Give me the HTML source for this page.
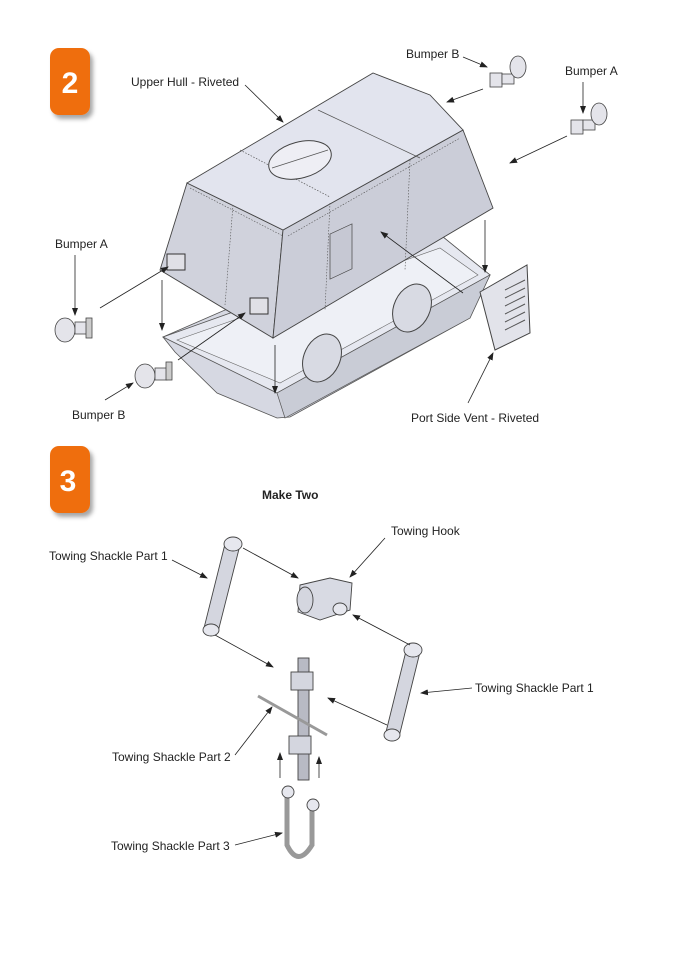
<!DOCTYPE html>
<html><head><meta charset="utf-8"><style>
html,body{margin:0;padding:0;background:#fff;}
svg{display:block;}
text{font-family:"Liberation Sans",sans-serif;font-size:12px;fill:#222;}
</style></head><body>
<svg width="676" height="954" viewBox="0 0 676 954" xmlns="http://www.w3.org/2000/svg">
<defs>
<marker id="a" markerWidth="8" markerHeight="6" refX="7" refY="3" orient="auto" markerUnits="userSpaceOnUse"><path d="M0,0 L8,3 L0,6 Z" fill="#222"/></marker>
<filter id="sh" x="-30%" y="-30%" width="170%" height="170%"><feDropShadow dx="3" dy="4" stdDeviation="2" flood-color="#000" flood-opacity="0.35"/></filter>
</defs>

<!-- badges -->
<rect x="50" y="48" width="40" height="67" rx="9" fill="#ef6e0a" filter="url(#sh)"/>
<text x="70" y="93" text-anchor="middle" style="font-size:30px;font-weight:bold;fill:#fff">2</text>
<rect x="50" y="446" width="40" height="67" rx="9" fill="#ef6e0a" filter="url(#sh)"/>
<text x="68" y="491" text-anchor="middle" style="font-size:30px;font-weight:bold;fill:#fff">3</text>

<!-- lower hull -->
<polygon points="163,337 225,310 443,237 490,275 470,318 290,417 277,418 217,393 175,352" fill="#d6d8e2" stroke="#555" stroke-width="0.8"/>
<polygon points="163,337 443,237 490,275 277,393" fill="#e6e8f0" stroke="#555" stroke-width="0.8"/>
<polygon points="177,340 440,248 478,275 280,383" fill="#eef0f6" stroke="#666" stroke-width="0.6"/>
<polygon points="277,393 490,275 470,318 285,418" fill="#c9ccd6" stroke="#555" stroke-width="0.7"/>
<ellipse cx="322" cy="358" rx="18" ry="25" fill="#d8dae3" stroke="#444" transform="rotate(25 322 358)"/>
<ellipse cx="412" cy="308" rx="18" ry="25" fill="#d8dae3" stroke="#444" transform="rotate(25 412 308)"/>
<!-- upper hull -->
<polygon points="187,183 283,230 273,338 160,270" fill="#d0d2dc" stroke="#444" stroke-width="0.9"/>
<polygon points="283,230 463,130 493,208 273,338" fill="#cbcdd8" stroke="#444" stroke-width="0.9"/>
<polygon points="187,183 373,73 430,95 463,130 283,230" fill="#e2e4ee" stroke="#444" stroke-width="0.9"/>
<line x1="318" y1="110" x2="420" y2="158" stroke="#555" stroke-width="0.7"/>
<line x1="240" y1="150" x2="330" y2="197" stroke="#555" stroke-width="0.7" stroke-dasharray="1.5 1.5"/>
<line x1="233" y1="205" x2="225" y2="305" stroke="#555" stroke-width="0.6" stroke-dasharray="1.5 1.5"/>
<line x1="410" y1="160" x2="405" y2="270" stroke="#555" stroke-width="0.6" stroke-dasharray="1.5 1.5"/>
<line x1="330" y1="203" x2="325" y2="310" stroke="#555" stroke-width="0.6" stroke-dasharray="1.5 1.5"/>
<line x1="190" y1="188" x2="283" y2="236" stroke="#555" stroke-width="0.6" stroke-dasharray="1.5 1.5"/>
<line x1="288" y1="236" x2="460" y2="138" stroke="#555" stroke-width="0.6" stroke-dasharray="1.5 1.5"/>
<ellipse cx="300" cy="160" rx="32" ry="18" fill="#eeeef4" stroke="#444" transform="rotate(-15 300 160)"/>
<line x1="272" y1="168" x2="328" y2="150" stroke="#555" stroke-width="0.7"/>
<rect x="330" y="228" width="22" height="45" fill="#c6c8d3" stroke="#444" stroke-width="0.7" transform="skewY(-25) translate(0,160)"/>
<rect x="167" y="254" width="18" height="16" fill="#e0e0e6" stroke="#333"/>
<rect x="250" y="298" width="18" height="16" fill="#e0e0e6" stroke="#333"/>
<!-- vent -->
<polygon points="480,292 527,265 530,333 495,350" fill="#e2e3ea" stroke="#444"/>
<g stroke="#555" stroke-width="1">
<line x1="505" y1="290" x2="525" y2="280"/><line x1="505" y1="298" x2="525" y2="288"/><line x1="505" y1="306" x2="525" y2="296"/><line x1="505" y1="314" x2="525" y2="304"/><line x1="505" y1="322" x2="525" y2="312"/><line x1="505" y1="330" x2="525" y2="320"/>
</g>
<!-- bumpers -->
<g stroke="#444" stroke-width="0.8" fill="#e4e4ea">
<ellipse cx="65" cy="330" rx="10" ry="12"/><rect x="75" y="322" width="12" height="12"/><rect x="86" y="318" width="6" height="20" fill="#ccc"/>
<ellipse cx="145" cy="376" rx="10" ry="12"/><rect x="155" y="368" width="12" height="12"/><rect x="166" y="362" width="6" height="18" fill="#ccc"/>
<rect x="490" y="73" width="12" height="14"/><rect x="502" y="74" width="12" height="10"/><ellipse cx="518" cy="67" rx="8" ry="11"/>
<rect x="571" y="120" width="12" height="14"/><rect x="583" y="120" width="12" height="10"/><ellipse cx="599" cy="114" rx="8" ry="11"/>
</g>
<!-- step 2 arrows -->
<g stroke="#222" stroke-width="0.8" marker-end="url(#a)">
<line x1="245" y1="85" x2="283" y2="122"/>
<line x1="463" y1="57" x2="487" y2="67"/>
<line x1="483" y1="89" x2="447" y2="102"/>
<line x1="583" y1="82" x2="583" y2="113"/>
<line x1="567" y1="136" x2="510" y2="163"/>
<line x1="75" y1="255" x2="75" y2="315"/>
<line x1="100" y1="308" x2="168" y2="267"/>
<line x1="162" y1="280" x2="162" y2="330"/>
<line x1="275" y1="345" x2="275" y2="393"/>
<line x1="485" y1="220" x2="485" y2="272"/>
<line x1="105" y1="400" x2="133" y2="383"/>
<line x1="468" y1="403" x2="493" y2="353"/>
<line x1="463" y1="293" x2="381" y2="232"/>
<line x1="178" y1="360" x2="245" y2="313"/>
</g>
<text x="131" y="86">Upper Hull - Riveted</text>
<text x="406" y="58">Bumper B</text>
<text x="565" y="75">Bumper A</text>
<text x="55" y="248">Bumper A</text>
<text x="72" y="419">Bumper B</text>
<text x="411" y="422">Port Side Vent - Riveted</text>

<!-- step 3 -->
<text x="262" y="499" style="font-weight:bold;font-size:12px">Make Two</text>
<g stroke="#444" stroke-width="0.9" fill="#d4d6df">
<polygon points="226,540 240,545 218,632 204,628"/>
<ellipse cx="233" cy="544" rx="9" ry="7" fill="#e6e7ee"/>
<ellipse cx="211" cy="630" rx="8" ry="6" fill="#e6e7ee"/>
<polygon points="407,647 420,652 399,737 386,732"/>
<ellipse cx="413" cy="650" rx="9" ry="7" fill="#e6e7ee"/>
<ellipse cx="392" cy="735" rx="8" ry="6" fill="#e6e7ee"/>
<path d="M300,585 L330,578 L352,583 L350,610 L320,620 L298,612 Z" fill="#d8dae3"/>
<ellipse cx="305" cy="600" rx="8" ry="13"/>
<ellipse cx="340" cy="609" rx="7" ry="6" fill="#e6e7ee"/>
<rect x="298" y="658" width="11" height="122" fill="#b8bac4"/>
<rect x="291" y="672" width="22" height="18"/>
<rect x="289" y="736" width="22" height="18"/>
<line x1="258" y1="696" x2="327" y2="735" stroke-width="3" stroke="#999"/>
<path d="M287,795 L287,845 Q298,868 312,845 L312,808" fill="none" stroke="#999" stroke-width="5"/>
<ellipse cx="288" cy="792" rx="6" ry="6" fill="#e6e7ee"/>
<ellipse cx="313" cy="805" rx="6" ry="6" fill="#e6e7ee"/>
</g>
<g stroke="#222" stroke-width="0.8" marker-end="url(#a)">
<line x1="385" y1="538" x2="350" y2="577"/>
<line x1="172" y1="560" x2="207" y2="578"/>
<line x1="243" y1="548" x2="298" y2="578"/>
<line x1="215" y1="635" x2="273" y2="667"/>
<line x1="410" y1="645" x2="353" y2="615"/>
<line x1="472" y1="688" x2="421" y2="693"/>
<line x1="387" y1="725" x2="328" y2="698"/>
<line x1="235" y1="755" x2="272" y2="707"/>
<line x1="280" y1="778" x2="280" y2="753"/>
<line x1="319" y1="778" x2="319" y2="757"/>
<line x1="235" y1="845" x2="282" y2="833"/>
</g>
<text x="391" y="535">Towing Hook</text>
<text x="49" y="560">Towing Shackle Part 1</text>
<text x="475" y="692">Towing Shackle Part 1</text>
<text x="112" y="761">Towing Shackle Part 2</text>
<text x="111" y="850">Towing Shackle Part 3</text>
</svg>
</body></html>
